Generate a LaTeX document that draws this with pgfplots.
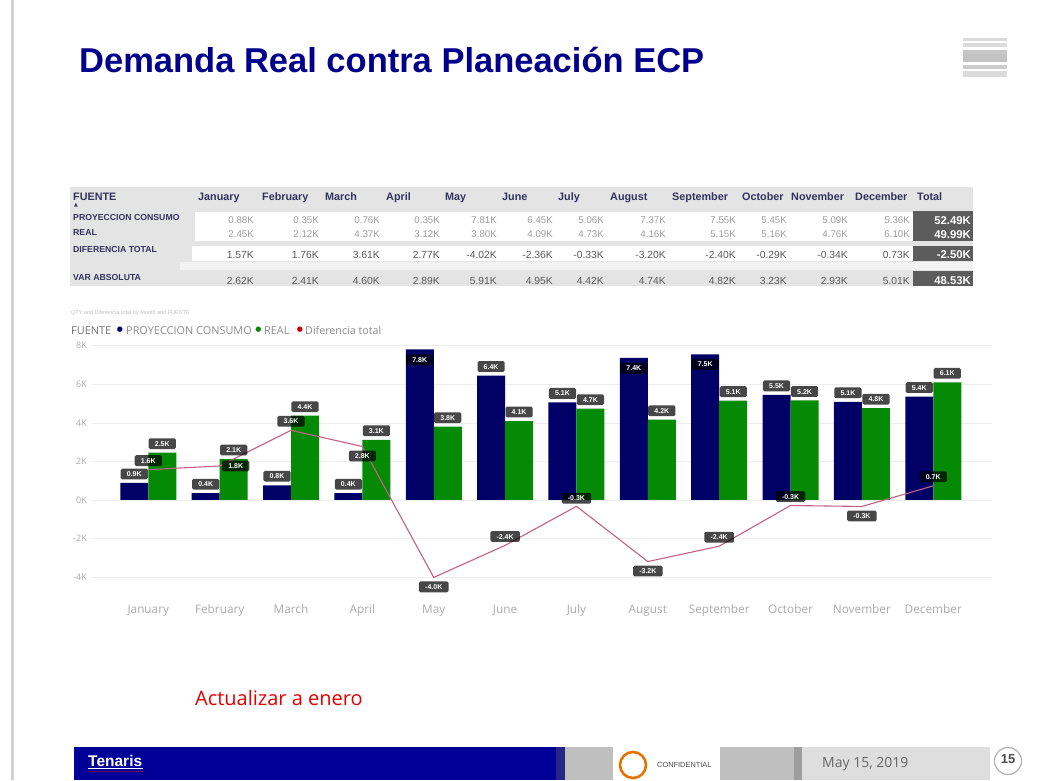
\documentclass[border=0pt]{standalone}
\usepackage{pgfplots}
\usepackage{pgfplotstable}
\usepackage{fontspec}
\pgfplotsset{compat=1.18}
\setmainfont{Liberation Sans}
\newfontfamily\osans{Open Sans}
\newfontfamily\djv{DejaVu Sans}
\definecolor{navybar}{HTML}{000066}
\definecolor{greenbar}{HTML}{058A05}
\definecolor{pinkline}{HTML}{C65F86}
\definecolor{hdr}{HTML}{33335F}
\definecolor{cell}{HTML}{8C8C8C}
\definecolor{tick}{HTML}{ABABAB}
\definecolor{tot}{HTML}{5C5C5C}
\definecolor{band}{HTML}{E4E4E4}
\pgfplotstableread{
x y lab dy
0 0.88 0.9K 9
1 0.35 0.4K 9
2 0.76 0.8K 9
3 0.35 0.4K 9
4 7.81 7.8K -10.5
5 6.45 6.4K 9
6 5.06 5.1K 9
7 7.37 7.4K -10.5
8 7.55 7.5K -10
9 5.45 5.5K 9
10 5.09 5.1K 9
11 5.36 5.4K 9
}\tblP
\pgfplotstableread{
x y lab dy
0 2.45 2.5K 9
1 2.12 2.1K 9
2 4.37 4.4K 9
3 3.12 3.1K 9
4 3.80 3.8K 9
5 4.09 4.1K 9
6 4.73 4.7K 9
7 4.16 4.2K 9
8 5.15 5.1K 9
9 5.16 5.2K 9
10 4.76 4.8K 9
11 6.10 6.1K 9
}\tblR
\pgfplotstableread{
x y lab dy dx
0 1.57 1.6K 9 0
1 1.76 1.8K 0 16
2 3.61 3.6K 9 0
3 2.77 2.8K -9.5 0
4 -4.02 -4.0K -9.5 0
5 -2.36 -2.4K 9 0
6 -0.33 -0.3K 8 0
7 -3.20 -3.2K -9.5 0
8 -2.40 -2.4K 9 0
9 -0.29 -0.3K 9 0
10 -0.34 -0.3K -9.5 0
11 0.73 0.7K 9 0
}\tblD
\tikzset{lbl/.style={fill=black,fill opacity=0.72,text opacity=1,text=white,rounded corners=1.5pt,
  font=\bfseries\fontsize{7}{7}\selectfont,inner xsep=6.2pt,inner ysep=2.8pt,text height=5.2pt,text depth=0pt}}
\begin{document}
\begin{tikzpicture}
\path[use as bounding box,fill=white] (0pt,0pt) rectangle (1041pt,-780pt);
\begin{scope}[x=1pt,y=-1pt]
% left rule
\fill[black!18] (10.5,0) rectangle (14,780);
% title
\node[anchor=base west,inner sep=0,text=blue!55!black,font=\bfseries\fontsize{34.5}{36}\selectfont] at (79,72) {Demanda Real contra Planeación ECP};
% icon
\fill[black!14] (963,38) rectangle (1007,41);
\fill[black!14] (963,43) rectangle (1007,47);
\fill[black!22] (963,50) rectangle (1007,54);
\fill[black!24] (963,54) rectangle (1007,62);
\fill[black!20] (963,65) rectangle (1007,69);
\fill[black!14] (963,71) rectangle (1007,77);
% table
\fill[band] (70,187) rectangle (973,286);
\fill[white] (195,212) rectangle (973,241);
\fill[white] (192,246) rectangle (973,261);
\fill[black!5] (180,262) rectangle (973,270);
\fill[tot] (913,211) rectangle (973,241);
\fill[tot] (913,246) rectangle (973,261);
\fill[tot] (913,271) rectangle (973,286);
\foreach \x/\t in {73/FUENTE,198/January,262/February,325/March,386/April,445/May,502/June,558/July,610/August,672/September,742/October,791/November,855/December,917/Total}
  \node[anchor=base west,inner sep=0,text=hdr,font=\bfseries\fontsize{10.8}{11}\selectfont] at (\x,200) {\t};
\node[text=hdr,inner sep=0,font=\djv\fontsize{5}{5}\selectfont] at (76,205.5) {▲};
\foreach \y/\t in {220.5/PROYECCION CONSUMO,235.5/REAL,252.5/DIFERENCIA TOTAL,280.5/VAR ABSOLUTA}
  \node[anchor=base west,inner sep=0,text=hdr,font=\bfseries\fontsize{8.7}{9}\selectfont] at (73,\y) {\t};
\foreach \x/\a/\b/\c/\d in {
 254/0.88K/2.45K/1.57K/2.62K,
 319/0.35K/2.12K/1.76K/2.41K,
 380/0.76K/4.37K/3.61K/4.60K,
 440/0.35K/3.12K/2.77K/2.89K,
 497/7.81K/3.80K/-4.02K/5.91K,
 553/6.45K/4.09K/-2.36K/4.95K,
 604/5.06K/4.73K/-0.33K/4.42K,
 666/7.37K/4.16K/-3.20K/4.74K,
 736/7.55K/5.15K/-2.40K/4.82K,
 787/5.45K/5.16K/-0.29K/3.23K,
 848/5.09K/4.76K/-0.34K/2.93K,
 910/5.36K/6.10K/0.73K/5.01K}{
  \node[anchor=base east,inner sep=0,text=cell!85,font=\fontsize{9.7}{10}\selectfont] at (\x,223) {\a};
  \node[anchor=base east,inner sep=0,text=cell!85,font=\fontsize{9.7}{10}\selectfont] at (\x,237.5) {\b};
  \node[anchor=base east,inner sep=0,text=black!65,font=\fontsize{10.3}{10}\selectfont] at (\x,258.5) {\c};
  \node[anchor=base east,inner sep=0,text=black!65,font=\fontsize{10.3}{10}\selectfont] at (\x,284.5) {\d};
}
\foreach \y/\t in {224/52.49K,238.5/49.99K,258/-2.50K,284/48.53K}
  \node[anchor=base east,inner sep=0,text=white,font=\bfseries\fontsize{11.3}{11}\selectfont] at (971,\y) {\t};
% chart caption and legend
\node[anchor=west,inner sep=0,text=black!25,font=\fontsize{5.5}{6}\selectfont] at (71,313) {QTY and Diferencia total by Month and FUENTE};
\node[anchor=base west,inner sep=0,text=black!55,font=\osans\fontsize{10.9}{11}\selectfont] at (71,334) {FUENTE};
\node[anchor=center,inner sep=0,text=navybar,font=\djv\fontsize{7}{7}\selectfont] at (120,330) {●};
\node[anchor=base west,inner sep=0,text=black!45,font=\osans\fontsize{10.9}{11}\selectfont] at (126,334) {PROYECCION CONSUMO};
\node[anchor=center,inner sep=0,text=greenbar,font=\djv\fontsize{7}{7}\selectfont] at (258.5,330) {●};
\node[anchor=base west,inner sep=0,text=black!45,font=\osans\fontsize{10.9}{11}\selectfont] at (264,334) {REAL};
\node[anchor=center,inner sep=0,text=red!80!black,font=\djv\fontsize{7}{7}\selectfont] at (300,330) {●};
\node[anchor=base west,inner sep=0,text=black!45,font=\osans\fontsize{10.7}{11}\selectfont] at (305,334) {Diferencia total};
% note
\node[anchor=base west,inner sep=0,text=red!90!black,font=\osans\fontsize{20}{20}\selectfont] at (195,705) {Actualizar a enero};
% footer
\fill[blue!60!black] (74,747) rectangle (556,780);
\fill[blue!45!black!85!white] (556,747) rectangle (565,780);
\fill[black!25] (565,747) rectangle (802,780);
\fill[white] (613,747) rectangle (720,780);
\fill[black!38] (794,747) rectangle (802,780);
\fill[black!13] (802,747) rectangle (990,780);
\draw[orange!90!black,line width=2.6pt] (633,765) circle (13);
\node[anchor=west,inner sep=0,text=black!70,font=\fontsize{7.4}{8}\selectfont] at (657,765) {CONFIDENTIAL};
\node[anchor=base west,inner sep=0,text=black!60,font=\osans\fontsize{14}{14}\selectfont] at (822,767) {May 15, 2019};
\node[anchor=base west,inner sep=0,text=white,font=\bfseries\fontsize{15.5}{16}\selectfont] at (88,766) {Tenaris};
\draw[white,line width=.6pt] (88,768.5) -- (143,768.5);
\draw[red!80!black,line width=1pt,densely dotted] (88,771) -- (143,771);
\draw[black!30,line width=1.2pt,fill=white] (1008,761) circle (13.5);
\node[inner sep=0,text=black!70,font=\bfseries\fontsize{13}{13}\selectfont] at (1008,759) {15};
\end{scope}
\begin{axis}[
  at={(92pt,-577pt)},anchor=south west,
  scale only axis,width=900pt,height=231.3pt,
  xmin=-0.789,xmax=11.823,ymin=-4,ymax=8,
  axis line style={draw=none},
  major tick length=0pt,
  ymajorgrids,
  grid style={black!7,line width=.6pt},
  ytick={-4,-2,0,2,4,6,8},
  yticklabels={-4K,-2K,0K,2K,4K,6K,8K},
  xtick={0,...,11},
  xticklabels={January,February,March,April,May,June,July,August,September,October,November,December},
  tick label style={text=tick,font=\osans},
  yticklabel style={font=\osans\fontsize{9}{9}\selectfont,anchor=east,xshift=-5pt,inner sep=0pt},
  xticklabel style={font=\osans\fontsize{11.8}{12}\selectfont,anchor=center,yshift=-33pt,inner sep=0pt,text height=8.5pt,text depth=2.5pt},
  clip=false,
  point meta=explicit symbolic,
  nodes near coords,
  visualization depends on={\thisrow{dy} \as \dy},
  every node near coord/.append style={lbl,anchor=center,yshift=\dy pt},
]
\addplot[ybar,bar width=28pt,bar shift=-14pt,fill=navybar,draw=none,
  every node near coord/.append style={xshift=-14pt}] table[x=x,y=y,meta=lab] {\tblP};
\addplot[ybar,bar width=28pt,bar shift=14pt,fill=greenbar,draw=none,
  every node near coord/.append style={xshift=14pt}] table[x=x,y=y,meta=lab] {\tblR};
\addplot[pinkline,line width=1.1pt,mark=none,
  visualization depends on={\thisrow{dx} \as \dx},
  every node near coord/.append style={xshift=\dx pt}] table[x=x,y=y,meta=lab] {\tblD};
\end{axis}
\end{tikzpicture}
\end{document}
